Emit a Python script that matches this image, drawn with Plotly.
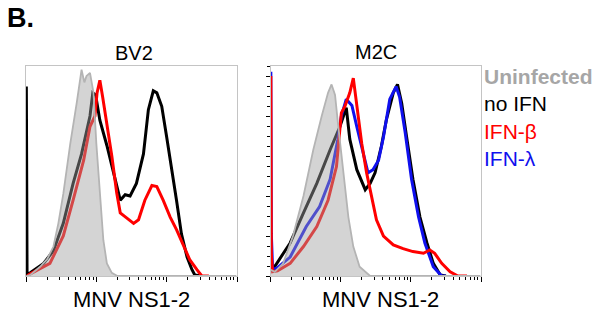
import plotly.graph_objects as go

# ---- data (x in decades of fluorescence, y in % of panel height) ----
bv2_uninf_x = [0.005, 0.06, 0.2, 0.3, 0.39, 0.46, 0.53, 0.63, 0.72, 0.79, 0.83, 0.86, 0.91, 0.96, 1.0, 1.05, 1.1, 1.15, 1.22, 1.3, 2.99]
bv2_uninf_y = [0, 0.5, 4.4, 8, 14, 25, 39, 63, 82, 98, 92, 95, 96.5, 87, 63, 39, 17, 6, 1.5, 0, 0]

bv2_noifn_x = [0.005, 0.015, 0.06, 0.25, 0.39, 0.53, 0.67, 0.79, 0.91, 0.95, 0.99, 1.05, 1.15, 1.24, 1.34, 1.41, 1.48, 1.57, 1.67, 1.74, 1.81, 1.86, 1.93, 2.0, 2.07, 2.14, 2.21, 2.29, 2.36, 2.4, 2.5]
bv2_noifn_y = [90, 1, 1.5, 6, 12, 25, 44, 58, 76, 87, 86, 74, 62, 50, 36, 38.6, 38, 44, 58, 79, 88, 87, 80.6, 66, 52, 36, 20, 9, 3, 0.5, 0]

bv2_beta_x = [0.015, 0.06, 0.34, 0.53, 0.67, 0.82, 0.91, 0.98, 1.01, 1.05, 1.09, 1.15, 1.22, 1.29, 1.34, 1.43, 1.53, 1.6, 1.69, 1.79, 1.86, 1.95, 2.05, 2.14, 2.24, 2.33, 2.43, 2.5, 2.6]
bv2_beta_y = [0, 1, 6, 19, 36, 55, 71, 76, 87, 93, 85, 73, 57, 39.4, 30, 27.6, 25, 26.7, 36, 43, 42.5, 36, 28, 22, 14, 7.6, 3, 0, 0]

m2c_uninf_x = [0.005, 0.06, 0.18, 0.32, 0.47, 0.61, 0.73, 0.82, 0.87, 0.92, 0.96, 1.04, 1.11, 1.18, 1.27, 1.42, 2.99]
m2c_uninf_y = [3, 2, 6, 19, 38, 60, 76, 87, 91, 86, 73, 49, 28, 14, 4.4, 0, 0]

m2c_noifn_x = [0.005, 0.015, 0.07, 0.28, 0.47, 0.66, 0.85, 0.99, 1.04, 1.08, 1.13, 1.23, 1.35, 1.42, 1.49, 1.58, 1.65, 1.75, 1.81, 1.87, 1.94, 2.03, 2.13, 2.23, 2.32, 2.42, 2.5]
m2c_noifn_y = [3, 3, 5, 15.7, 30, 44, 60, 71, 76, 80, 65, 50.5, 41, 44, 49, 61.6, 74, 87, 91, 82, 66, 46, 28, 15.7, 6, 0.5, 0]

m2c_lambda_x = [0.005, 0.012, 0.03, 0.1, 0.28, 0.51, 0.70, 0.85, 0.96, 1.01, 1.08, 1.16, 1.23, 1.32, 1.39, 1.46, 1.54, 1.61, 1.70, 1.79, 1.84, 1.92, 2.01, 2.11, 2.2, 2.32, 2.44, 2.5]
m2c_lambda_y = [97, 20, 3, 4, 9, 23.5, 33, 46, 65, 76, 84, 81, 71, 58.5, 49, 50.5, 55, 66, 84, 90, 85, 68, 46, 28, 15.7, 4.4, 0, 0]

m2c_beta_x = [0.005, 0.012, 0.03, 0.1, 0.28, 0.47, 0.66, 0.82, 0.94, 1.01, 1.06, 1.13, 1.18, 1.23, 1.30, 1.37, 1.44, 1.51, 1.61, 1.75, 1.89, 2.03, 2.18, 2.27, 2.34, 2.44, 2.56, 2.67, 2.8]
m2c_beta_y = [95, 10, 2, 2.5, 6, 14, 23.5, 36, 52, 77.5, 80.6, 87, 94, 80.6, 63, 49, 38, 26.7, 19, 14.8, 13, 11.6, 10.8, 12.4, 10.8, 6, 2, 0, 0]

panel_titles = ["BV2", "M2C"]
x_title = "MNV NS1-2"
legend_labels = ["Uninfected", "no IFN", "IFN-β", "IFN-λ"]
legend_colors = ["#a6a6a6", "#000000", "#ff0000", "#1010ee"]

FONT = "Liberation Sans, Arial, sans-serif"
GREY_FILL = "rgba(160,160,160,0.45)"
GREY_LINE = "rgba(180,180,180,1)"

def lg(v):
    return [10 ** a for a in v]

fig = go.Figure()

def line(x, y, color, axis):
    fig.add_trace(go.Scatter(x=lg(x), y=y, mode="lines", line=dict(color=color, width=3),
                             xaxis=axis[0], yaxis=axis[1], showlegend=False, hoverinfo="skip"))

def filled(x, y, axis):
    fig.add_trace(go.Scatter(x=lg(x), y=y, mode="lines", fill="tozeroy", fillcolor=GREY_FILL,
                             line=dict(color=GREY_LINE, width=1.8),
                             xaxis=axis[0], yaxis=axis[1], showlegend=False, hoverinfo="skip"))

A1 = ("x", "y")
A2 = ("x2", "y2")
line(bv2_noifn_x, bv2_noifn_y, "#000000", A1)
line(bv2_beta_x, bv2_beta_y, "#ff0000", A1)
filled(bv2_uninf_x, bv2_uninf_y, A1)

line(m2c_noifn_x, m2c_noifn_y, "#000000", A2)
line(m2c_lambda_x, m2c_lambda_y, "#1010ee", A2)
line(m2c_beta_x, m2c_beta_y, "#ff0000", A2)
filled(m2c_uninf_x, m2c_uninf_y, A2)

W, H = 597, 320
major = [1, 10, 100, 1000]
minor = [m * 10 ** k for k in range(3) for m in range(2, 10)]

xcommon = dict(type="log", range=[0, 3], showgrid=False, zeroline=False, showticklabels=False,
               tickmode="array", tickvals=major, ticks="outside", ticklen=5, tickwidth=1, tickcolor="#000",
               minor=dict(tickmode="array", tickvals=minor, ticks="outside", ticklen=3, tickwidth=1, tickcolor="#000"),
               showline=True, linecolor="#c4c4c4", linewidth=1, mirror=True, fixedrange=True)
ycommon = dict(range=[0, 100], showgrid=False, zeroline=False, showticklabels=False,
               showline=True, linecolor="#c4c4c4", linewidth=1, mirror=True, fixedrange=True)

ydom = [(320 - 276) / H, (320 - 65.5) / H]
fig.update_layout(
    width=W, height=H, margin=dict(l=0, r=0, t=0, b=0),
    paper_bgcolor="white", plot_bgcolor="white",
    xaxis=dict(domain=[26 / W, 237 / W], **xcommon),
    yaxis=dict(domain=ydom, ticks="", **ycommon),
    xaxis2=dict(domain=[270.5 / W, 481 / W], anchor="y2", **xcommon),
    yaxis2=dict(domain=ydom, anchor="x2", ticks="outside", ticklen=4, tickwidth=1, tickcolor="#000",
                tick0=0, dtick=100 * 40 / 210.5,
                minor=dict(ticks="outside", ticklen=2.5, tickwidth=1, tickcolor="#000", dtick=100 * 10 / 210.5),
                **ycommon),
    showlegend=False,
)

def txt(x, y, s, size, color="#000", bold=False, xanchor="center"):
    fig.add_annotation(x=x / W, y=1 - y / H, xref="paper", yref="paper", text=("<b>%s</b>" % s) if bold else s,
                       showarrow=False, xanchor=xanchor, yanchor="middle",
                       font=dict(family=FONT, size=size, color=color))

txt(5, 18, "B.", 27, bold=True, xanchor="left")
txt(134, 53, panel_titles[0], 20)
txt(376, 52, panel_titles[1], 20)
txt(131, 299, x_title, 22)
txt(380, 299, x_title, 22)
leg_y = [76, 104, 131, 158]
for i, (lab, col) in enumerate(zip(legend_labels, legend_colors)):
    txt(482, leg_y[i], lab, 21, color=col, bold=(i == 0), xanchor="left")

fig.write_html("out.html")
